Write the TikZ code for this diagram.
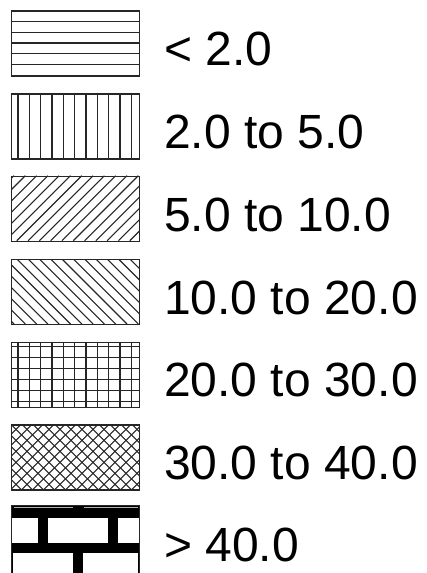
\documentclass[tikz,border=0pt]{standalone}
\usepackage{fontspec}
\setmainfont{Liberation Sans}
\newcommand\legpat[3]{%
  \begin{scope}[shift={(11,#1)}]
    \clip (0,0) rectangle (128,#2);
    #3
  \end{scope}}
\begin{document}
\begin{tikzpicture}[x=1pt,y=-1pt,
  legbox/.style={rectangle, draw=black!85, line width=1.4pt, minimum width=128pt,
    minimum height=65pt, inner sep=0pt, anchor=north west},
  hatch/.style={line width=1.1pt, draw=black!85},
  lbl/.style={anchor=base west, inner sep=0pt, font=\fontsize{48}{48}\selectfont}]
\useasboundingbox (0,0) rectangle (427,573);

% 1: horizontal lines
\legpat{10.3}{65}{\foreach \i in {1,...,5} \draw[hatch] (0,\i*10.9) -- (128,\i*10.9);}
\node[legbox] (b1) at (11,10.3) {};
% 2: vertical lines
\legpat{93.3}{65}{\foreach \i in {0,...,10} \draw[hatch] (7+\i*11.33,0) -- (7+\i*11.33,65);}
\node[legbox] (b2) at (11,93.3) {};
% 3: diagonal /
\legpat{175.7}{65}{\foreach \i in {0,...,17} \draw[hatch] (-62+\i*11.3,65) -- (3+\i*11.3,0);}
\node[legbox] (b3) at (11,175.7) {};
% 4: diagonal \
\legpat{259}{65}{\foreach \i in {0,...,17} \draw[hatch] (-62+\i*11.3,0) -- (3+\i*11.3,65);}
\node[legbox] (b4) at (11,259) {};
% 5: grid
\legpat{341.7}{65}{%
  \foreach \i in {0,...,10} \draw[hatch] (7+\i*11.33,0) -- (7+\i*11.33,65);
  \foreach \i in {0,...,5} \draw[hatch] (0,5+\i*11) -- (128,5+\i*11);}
\node[legbox] (b5) at (11,341.7) {};
% 6: crosshatch
\legpat{424.3}{65}{%
  \foreach \i in {0,...,18} {
    \draw[hatch, line width=1pt] (-66+\i*11,65) -- (-1+\i*11,0);
    \draw[hatch, line width=1pt] (-66+\i*11,0) -- (-1+\i*11,65);
  }}
\node[legbox] (b6) at (11,424.3) {};
% 7: bricks
\legpat{505}{75}{%
  \fill[black] (0,0) rectangle (128,75);
  \draw[line width=1pt, black!30] (3,2) -- (62,2) (73,2) -- (127,2);
  \fill[white] (0,12.7) rectangle (27.3,38.3);
  \fill[white] (37.3,12.7) rectangle (97.3,38.3);
  \fill[white] (107.3,12.7) rectangle (128,38.3);
  \fill[white] (2.3,47.7) rectangle (62.3,80);
  \fill[white] (72.3,47.7) rectangle (127.3,80);}
\node[legbox, minimum height=75pt] (b7) at (11,505) {};

\node[lbl] (t1) at (164,65.5) {< 2.0};
\node[lbl] (t2) at (164,148.5) {2.0 to 5.0};
\node[lbl] (t3) at (164,231) {5.0 to 10.0};
\node[lbl] (t4) at (164,314) {10.0 to 20.0};
\node[lbl] (t5) at (164,396.5) {20.0 to 30.0};
\node[lbl] (t6) at (164,479.5) {30.0 to 40.0};
\node[lbl] (t7) at (164,561.5) {> 40.0};
\end{tikzpicture}
\end{document}
